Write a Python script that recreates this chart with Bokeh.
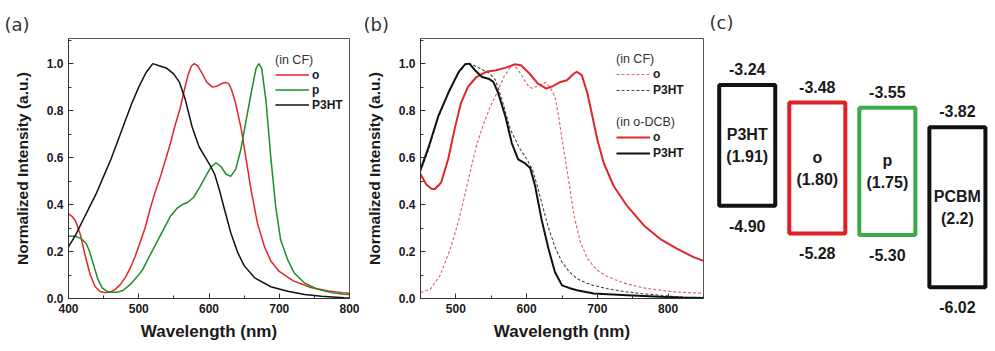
from bokeh.plotting import figure
from bokeh.layouts import row, column
from bokeh.models import (ColumnDataSource, Legend, LegendItem, SingleIntervalTicker,
                          PrintfTickFormatter, Label, LabelSet, Range1d)
from bokeh.core.properties import value
from bokeh.embed import file_html
from bokeh.resources import INLINE

# ---------------- Panel (a): absorption in CF ----------------
a_o_nm = [400, 405, 410, 417, 424, 431, 438, 445, 452, 460, 467, 474, 481, 488, 495, 502, 509, 516, 523, 531,
          538, 545, 552, 559, 565, 570, 575, 579, 584, 590, 597, 605, 612, 618, 624, 628, 632, 638, 646, 653,
          660, 669, 679, 688, 700, 720, 745, 770, 790, 800]
a_o_val = [0.36, 0.35, 0.33, 0.27, 0.18, 0.10, 0.05, 0.03, 0.025, 0.028, 0.04, 0.06, 0.09, 0.13, 0.18, 0.24, 0.30, 0.38, 0.45, 0.52,
           0.59, 0.66, 0.74, 0.81, 0.89, 0.95, 0.99, 1.0, 0.99, 0.96, 0.92, 0.90, 0.905, 0.915, 0.92, 0.915, 0.89, 0.83, 0.72, 0.59,
           0.46, 0.32, 0.22, 0.16, 0.115, 0.075, 0.047, 0.032, 0.025, 0.022]

a_p_nm = [400, 410, 418, 425, 430, 436, 442, 448, 455, 462, 470, 478, 488, 497, 505, 517, 531, 545, 555, 562,
          570, 578, 587, 597, 603, 610, 617, 624, 631, 638, 645, 652, 660, 667, 671, 675, 681, 688, 695, 702,
          712, 721, 736, 754, 774, 792, 800]
a_p_val = [0.265, 0.265, 0.255, 0.235, 0.20, 0.14, 0.08, 0.045, 0.03, 0.027, 0.027, 0.035, 0.06, 0.09, 0.12, 0.19, 0.27, 0.35, 0.385, 0.40,
           0.41, 0.43, 0.475, 0.53, 0.56, 0.578, 0.562, 0.53, 0.52, 0.55, 0.63, 0.745, 0.875, 0.98, 1.0, 0.98, 0.845, 0.60, 0.39, 0.25,
           0.165, 0.11, 0.066, 0.04, 0.025, 0.018, 0.017]

a_p3ht_nm = [400, 410, 420, 430, 440, 450, 460, 470, 480, 490, 500, 510, 520, 530, 540, 550, 558, 566, 576, 586,
             595, 602, 608, 615, 622, 631, 641, 650, 665, 688, 712, 736, 760, 792, 800]
a_p3ht_val = [0.22, 0.27, 0.33, 0.39, 0.45, 0.52, 0.59, 0.67, 0.75, 0.83, 0.90, 0.96, 1.0, 0.99, 0.98, 0.955, 0.92, 0.85, 0.73, 0.645,
              0.60, 0.565, 0.53, 0.46, 0.38, 0.28, 0.195, 0.14, 0.088, 0.05, 0.031, 0.017, 0.01, 0.003, 0.002]

# ---------------- Panel (b): CF (dashed) vs o-DCB (solid) ----------------
b_cf_o_nm = [450, 464, 478, 492, 502, 511, 521, 530, 540, 549, 558, 568, 577, 582, 591, 601, 607, 616, 627, 633,
             640, 645, 650, 657, 663, 668, 676, 686, 698, 710, 725, 742, 765, 789, 810, 850]
b_cf_o_val = [0.025, 0.04, 0.10, 0.21, 0.31, 0.42, 0.55, 0.66, 0.75, 0.82, 0.875, 0.945, 0.985, 0.995, 0.96, 0.91, 0.895, 0.905, 0.92, 0.90,
              0.86, 0.78, 0.68, 0.55, 0.43, 0.34, 0.24, 0.17, 0.125, 0.10, 0.08, 0.062, 0.045, 0.035, 0.028, 0.022]

b_cf_p3ht_nm = [450, 461, 475, 490, 504, 513, 519, 527, 537, 547, 556, 565, 577, 591, 601, 608, 615, 622, 630, 640,
                650, 660, 671, 684, 695, 720, 742, 765, 789, 810, 830, 850]
b_cf_p3ht_val = [0.54, 0.63, 0.77, 0.88, 0.96, 0.995, 1.0, 0.99, 0.975, 0.96, 0.93, 0.85, 0.72, 0.635, 0.59, 0.55, 0.48, 0.40, 0.31, 0.22,
                 0.155, 0.115, 0.085, 0.066, 0.055, 0.038, 0.028, 0.02, 0.014, 0.008, 0.004, 0.002]

b_dcb_o_nm = [450, 458, 465, 470, 479, 489, 498, 507, 517, 529, 543, 557, 571, 583, 592, 604, 616, 628, 637, 648,
              657, 667, 671, 678, 686, 693, 700, 709, 723, 742, 766, 789, 813, 836, 850]
b_dcb_o_val = [0.53, 0.486, 0.468, 0.465, 0.493, 0.592, 0.718, 0.831, 0.901, 0.943, 0.965, 0.972, 0.983, 0.997, 0.993, 0.958, 0.915, 0.894, 0.904, 0.922,
               0.929, 0.958, 0.965, 0.951, 0.873, 0.775, 0.676, 0.577, 0.479, 0.394, 0.31, 0.253, 0.211, 0.176, 0.16]

b_dcb_p3ht_nm = [450, 461, 475, 490, 504, 513, 519, 527, 537, 546, 553, 560, 570, 579, 588, 598, 605, 612, 621, 631,
                 640, 650, 660, 671, 695, 742, 789, 820, 850]
b_dcb_p3ht_val = [0.549, 0.64, 0.775, 0.88, 0.965, 0.997, 1.0, 0.972, 0.943, 0.936, 0.922, 0.873, 0.775, 0.662, 0.592, 0.575, 0.556, 0.479, 0.338, 0.211,
                  0.113, 0.056, 0.045, 0.035, 0.021, 0.014, 0.007, 0.004, 0.002]

# ---------------- Panel (c): energy levels (eV) ----------------
materials = ["P3HT", "o", "p", "PCBM"]
lumo = [-3.24, -3.48, -3.55, -3.82]
homo = [-4.90, -5.28, -5.30, -6.02]
gap_labels = ["(1.91)", "(1.80)", "(1.75)", "(2.2)"]
box_colors = ["#111111", "#e31e25", "#3bab4a", "#111111"]

RED = "#e0262b"
GREEN = "#1e8c2a"
BLACK = "#111111"
FONT = "Liberation Sans"
H = 343
TOP, BOTTOM = 38, 44


def style(p, xlabel, ylabel):
    p.grid.visible = False
    p.outline_line_color = "#555555"
    p.outline_line_width = 1
    p.yaxis.ticker = SingleIntervalTicker(interval=0.2, num_minor_ticks=2)
    p.yaxis.formatter = PrintfTickFormatter(format="%.1f")
    p.xaxis.ticker = SingleIntervalTicker(interval=100, num_minor_ticks=2)
    for ax in (p.xaxis[0], p.yaxis[0]):
        ax.major_tick_in = 5
        ax.major_tick_out = 0
        ax.minor_tick_in = 3
        ax.minor_tick_out = 0
        ax.axis_line_color = "#333333"
        ax.major_tick_line_color = "#333333"
        ax.minor_tick_line_color = "#333333"
        ax.major_label_text_font = FONT
        ax.major_label_text_font_style = "bold"
        ax.major_label_text_font_size = "12px"
        ax.major_label_text_color = "#1a1a1a"
        ax.major_label_standoff = 5
        ax.axis_label_text_font = FONT
        ax.axis_label_text_font_style = "bold"
        ax.axis_label_text_color = "#1a1a1a"
    p.xaxis.axis_label = xlabel
    p.yaxis.axis_label = ylabel
    p.xaxis.axis_label_text_font_size = "17px"
    p.yaxis.axis_label_text_font_size = "15.5px"
    p.xaxis.axis_label_standoff = 6
    p.yaxis.axis_label_standoff = 13


def make_legend(items, title, loc, row_h):
    leg = Legend(items=items, location=loc, title=title)
    leg.title_text_font = FONT
    leg.title_text_font_style = "normal"
    leg.title_text_font_size = "12.5px"
    leg.title_text_color = "#333333"
    leg.title_standoff = 0
    leg.label_text_font = FONT
    leg.label_text_font_style = "bold"
    leg.label_text_font_size = "12px"
    leg.label_text_color = "#1a1a1a"
    leg.glyph_width = 34
    leg.glyph_height = row_h
    leg.label_height = row_h
    leg.label_standoff = 3
    leg.spacing = 0
    leg.padding = 0
    leg.margin = 0
    leg.background_fill_alpha = 0
    leg.border_line_alpha = 0
    return leg


def panel_tag(p, text, offset):
    p.title.text = text
    p.title.align = "left"
    p.title.offset = offset
    p.title.standoff = 8
    p.title.text_font = "DejaVu Sans"
    p.title.text_font_style = "normal"
    p.title.text_font_size = "18px"
    p.title.text_color = "#333333"


# ---- (a) ----
pa = figure(width=360, height=H, x_range=Range1d(400, 800), y_range=Range1d(0, 1.107),
            output_backend="svg", toolbar_location=None,
            min_border_left=68, min_border_right=11, min_border_top=TOP, min_border_bottom=BOTTOM)
ra_o = pa.line(a_o_nm, a_o_val, line_color=RED, line_width=1.5)
ra_p = pa.line(a_p_nm, a_p_val, line_color=GREEN, line_width=1.5)
ra_h = pa.line(a_p3ht_nm, a_p3ht_val, line_color=BLACK, line_width=1.5)
style(pa, "Wavelength (nm)", "Normalized Intensity (a.u.)")
pa.add_layout(make_legend([LegendItem(label="o", renderers=[ra_o]),
                           LegendItem(label="p", renderers=[ra_p]),
                           LegendItem(label="P3HT", renderers=[ra_h])],
                          "(in CF)", (207, 186), 15))
panel_tag(pa, "(a)", -64)

# ---- (b) ----
pb = figure(width=344, height=H, x_range=Range1d(450, 850), y_range=Range1d(0, 1.107),
            output_backend="svg", toolbar_location=None,
            min_border_left=60, min_border_right=1, min_border_top=TOP, min_border_bottom=BOTTOM)
rb_co = pb.line(b_cf_o_nm, b_cf_o_val, line_color="#e36a6a", line_width=1.2, line_dash="3 2")
rb_ch = pb.line(b_cf_p3ht_nm, b_cf_p3ht_val, line_color="#444444", line_width=1.1, line_dash="3 2")
rb_do = pb.line(b_dcb_o_nm, b_dcb_o_val, line_color=RED, line_width=2)
rb_dh = pb.line(b_dcb_p3ht_nm, b_dcb_p3ht_val, line_color=BLACK, line_width=2)
style(pb, "Wavelength (nm)", "Normalized Intensity (a.u.)")
pb.add_layout(make_legend([LegendItem(label="o", renderers=[rb_co]),
                           LegendItem(label="P3HT", renderers=[rb_ch])],
                          "(in CF)", (196, 200), 16))
pb.add_layout(make_legend([LegendItem(label="o", renderers=[rb_do]),
                           LegendItem(label="P3HT", renderers=[rb_dh])],
                          "(in o-DCB)", (196, 137), 16))
panel_tag(pb, "(b)", -57)

# ---- (c) ----
pc = figure(width=291, height=H, x_range=Range1d(-0.61, 3.544), y_range=Range1d(-6.794, -2.076),
            output_backend="svg", toolbar_location=None, x_axis_type=None, y_axis_type=None,
            min_border=0)
pc.grid.visible = False
pc.outline_line_color = None
idx = list(range(len(materials)))
src = ColumnDataSource(dict(
    x=idx, left=[i - 0.4 for i in idx], right=[i + 0.4 for i in idx],
    top=lumo, bottom=homo, color=box_colors, name=materials, gap=gap_labels,
    mid=[(a + b) / 2 for a, b in zip(lumo, homo)],
    lumo_txt=[f"{v:.2f}" for v in lumo], homo_txt=[f"{v:.2f}" for v in homo]))
pc.quad(left="left", right="right", top="top", bottom="bottom", source=src,
        fill_alpha=0, line_color="color", line_width=4)
common = dict(source=src, text_align="center", text_baseline="middle",
              text_font=value(FONT), text_font_style="bold", text_font_size="16px", text_color="#1a1a1a")
pc.add_layout(LabelSet(x="x", y="top", text="lumo_txt", y_offset=16, **common))
pc.add_layout(LabelSet(x="x", y="bottom", text="homo_txt", y_offset=-20, **common))
pc.add_layout(LabelSet(x="x", y="mid", text="name", y_offset=11, **common))
pc.add_layout(LabelSet(x="x", y="mid", text="gap", y_offset=-11, **common))
pc.add_layout(Label(x=-0.539, y=-2.241, text="(c)", text_font="DejaVu Sans", text_font_size="18px",
                    text_color="#333333", text_baseline="top", text_align="left"))

layout = row(pa, pb, column(pc))
open("out.html", "w").write(file_html(layout, INLINE))
